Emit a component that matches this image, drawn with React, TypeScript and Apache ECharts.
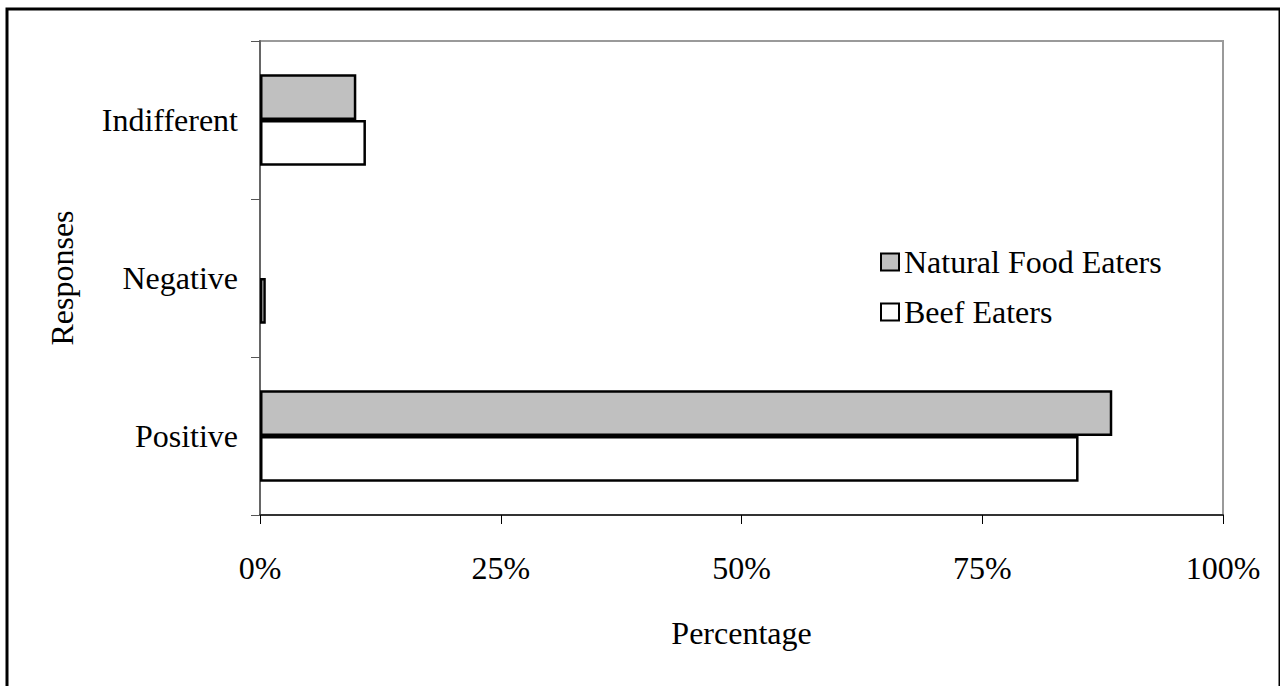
import React, { useEffect, useRef } from "react";
import * as echarts from "echarts";

// Response categories, listed bottom-to-top as the category axis draws them
const categories = ["Positive", "Negative", "Indifferent"];
const naturalFoodEaters = [88.5, 0, 10];
const beefEaters = [85, 0.6, 11];
const xTicks = { min: 0, max: 100, interval: 25 };

const FONT = "'Liberation Serif', 'Times New Roman', serif";

function toBarData(values: number[]) {
  // a zero-length bar gets no outline so that nothing is drawn for it
  return values.map((v) =>
    v === 0 ? { value: v, itemStyle: { borderWidth: 0 } } : { value: v }
  );
}

export default function App() {
  const ref = useRef<HTMLDivElement>(null);

  useEffect(() => {
    if (!ref.current) return;
    const chart = echarts.init(ref.current, null, { renderer: "svg" });
    chart.setOption({
      animation: false,
      backgroundColor: "#ffffff",
      textStyle: { fontFamily: FONT },
      grid: {
        left: 260,
        top: 41,
        right: 57,
        bottom: 171,
        show: true,
        borderColor: "#9a9a9a",
        borderWidth: 2,
        backgroundColor: "transparent",
      },
      legend: {
        orient: "vertical",
        left: 875,
        top: 241,
        icon: "rect",
        itemWidth: 18,
        itemHeight: 17,
        itemGap: 18,
        itemTextGap: 7,
        data: ["Natural Food Eaters", "Beef Eaters"],
        textStyle: {
          fontFamily: FONT,
          fontSize: 32,
          color: "#000",
        },
      },
      xAxis: {
        type: "value",
        min: xTicks.min,
        max: xTicks.max,
        interval: xTicks.interval,
        name: "Percentage",
        nameLocation: "middle",
        nameGap: 102,
        nameTextStyle: { fontFamily: FONT, fontSize: 32, color: "#000" },
        axisLine: { show: true, lineStyle: { color: "#333", width: 2 } },
        axisTick: { show: true, length: 9, lineStyle: { color: "#000", width: 1 } },
        axisLabel: {
          formatter: "{value}%",
          fontFamily: FONT,
          fontSize: 32,
          color: "#000",
          margin: 37,
        },
        splitLine: { show: false },
      },
      yAxis: {
        type: "category",
        data: categories,
        name: "Responses",
        nameLocation: "middle",
        nameRotate: 90,
        nameGap: 182,
        nameTextStyle: { fontFamily: FONT, fontSize: 32, color: "#000" },
        axisLine: { show: true, lineStyle: { color: "#666", width: 2 } },
        axisTick: { show: true, length: 9, lineStyle: { color: "#555", width: 1 } },
        axisLabel: {
          fontFamily: FONT,
          fontSize: 32,
          color: "#000",
          margin: 22,
        },
        splitLine: { show: false },
      },
      series: [
        {
          name: "Natural Food Eaters",
          type: "bar",
          data: toBarData(naturalFoodEaters),
          barGap: "0%",
          barCategoryGap: "42%",
          itemStyle: { color: "#c0c0c0", borderColor: "#000", borderWidth: 2.5 },
        },
        {
          name: "Beef Eaters",
          type: "bar",
          data: toBarData(beefEaters),
          barGap: "0%",
          barCategoryGap: "42%",
          itemStyle: { color: "#ffffff", borderColor: "#000", borderWidth: 2.5 },
        },
      ],
      graphic: [
        {
          type: "rect",
          silent: true,
          shape: { x: 7, y: 9, width: 1273, height: 700 },
          style: { fill: "none", stroke: "#000", lineWidth: 3 },
        },
      ],
    });
    return () => chart.dispose();
  }, []);

  return (
    <div
      ref={ref}
      style={{ position: "fixed", left: 0, top: 0, width: 1280, height: 686 }}
    />
  );
}
